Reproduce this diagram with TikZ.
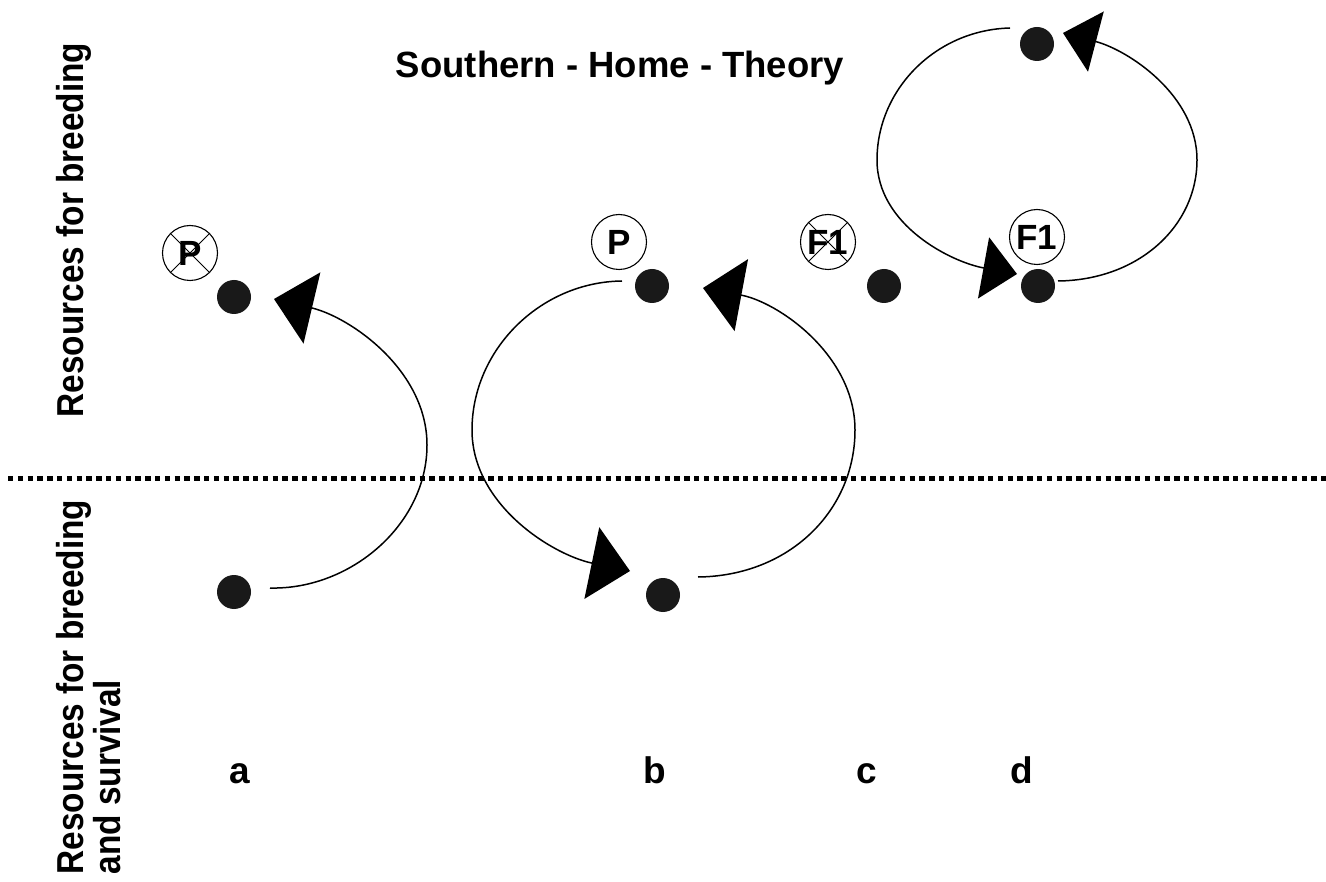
\documentclass[tikz,border=0pt]{standalone}
\usepackage{fontspec}
\usepackage{graphicx}
\setmainfont{Liberation Sans}
\usetikzlibrary{arrows.meta}
\begin{document}
\begin{tikzpicture}[x=1pt,y=-1pt,
  dot/.style={circle,fill=black!90,inner sep=0pt,minimum size=34pt},
  lab/.style={circle,draw,line width=1.1pt,inner sep=0pt,minimum size=55pt,font=\bfseries\fontsize{35}{40}\selectfont},
  crossline/.style={line width=1pt},
  loopline/.style={line width=1.5pt},
  bigtip/.style={-{Triangle[length=39pt,width=73pt]}},
  smalltip/.style={-{Triangle[length=34pt,width=62pt]}},
  title/.style={font=\bfseries\fontsize{36.5}{40}\selectfont},
  sidetext/.style={font=\bfseries\fontsize{37.5}{40}\selectfont,rotate=90},
  colname/.style={font=\bfseries\fontsize{37}{40}\selectfont,anchor=base},
  divider/.style={line width=5pt,dash pattern=on 5.3pt off 4.5pt}
]
\useasboundingbox (0,0) rectangle (1326,882);

% title
\node[title,anchor=base] (ttl) at (620,78) {Southern - Home - Theory};

% side texts
\node[sidetext,anchor=base] (up) at (83,230) {\scalebox{0.89}[1]{Resources for breeding}};
\node[sidetext,anchor=base west] (lo1) at (83,878) {\scalebox{0.89}[1]{Resources for breeding}};
\node[sidetext,anchor=base west] (lo2) at (120,878) {\scalebox{0.89}[1]{and survival}};

% divider
\coordinate (dl) at (8,479);
\coordinate (dr) at (1326,479);
\draw[divider] (dl) -- (dr);

% dots
\node[dot] (a1) at (234,297) {};
\node[dot] (a0) at (234,592) {};
\node[dot] (b1) at (652,286) {};
\node[dot] (b0) at (663,595) {};
\node[dot] (c1) at (884,286) {};
\node[dot] (d1) at (1038,286) {};
\node[dot] (d2) at (1037,44) {};

% labels
\node[lab] (cp) at (190,253) {P};
\draw[crossline] (cp.45) -- (cp.225);
\draw[crossline] (cp.135) -- (cp.-45);
\node[lab] (pp) at (619,242) {P};
\node[lab] (cf) at (828,242) {F1};
\draw[crossline] (cf.45) -- (cf.225);
\draw[crossline] (cf.135) -- (cf.-45);
\node[lab] (ff) at (1037,237) {F1};

% column names
\node[colname] (na) at (240,783) {a};
\node[colname] (nb) at (655,783) {b};
\node[colname] (nc) at (867,783) {c};
\node[colname] (nd) at (1022,783) {d};

% loop a
\coordinate (as) at (270,588);
\coordinate (at) at (274,299);
\draw[loopline,bigtip] (as) .. controls (350,590) and (427,525) .. (427,445)
  .. controls (427,370) and (350,317) .. (at);

% loop b
\coordinate (bls) at (622,281);
\coordinate (blt) at (630,571);
\draw[loopline,bigtip] (bls) .. controls (540,282) and (472,350) .. (472,430)
  .. controls (472,505) and (553,555) .. (blt);
\coordinate (brs) at (698,577);
\coordinate (brt) at (703,288);
\draw[loopline,bigtip] (brs) .. controls (790,576) and (855,510) .. (855,430)
  .. controls (855,355) and (778,302) .. (brt);

% loop d
\coordinate (dls) at (1010,28);
\coordinate (dlt) at (1017,274);
\draw[loopline,smalltip] (dls) .. controls (935,30) and (877,90) .. (877,160)
  .. controls (877,225) and (951,262) .. (dlt);
\coordinate (drs) at (1058,281);
\coordinate (drt) at (1063,33);
\draw[loopline,smalltip] (drs) .. controls (1140,280) and (1197,225) .. (1197,160)
  .. controls (1197,95) and (1128,50) .. (drt);
\end{tikzpicture}
\end{document}
